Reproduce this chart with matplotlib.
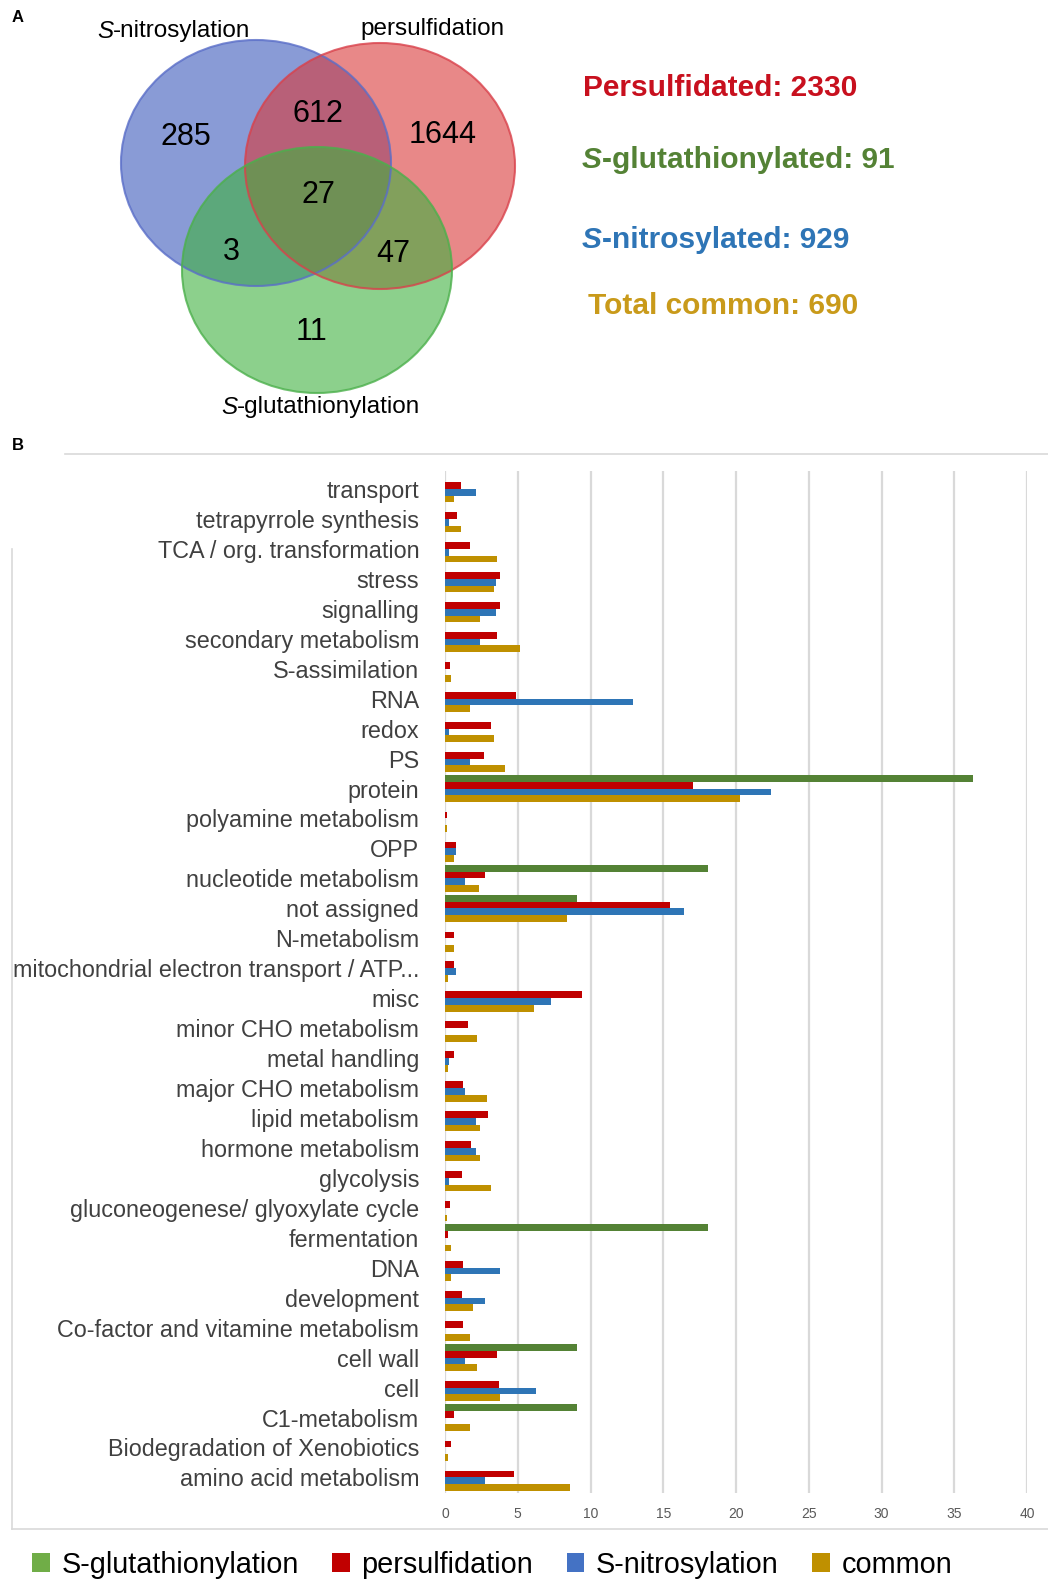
import numpy as np
import matplotlib.pyplot as plt
from matplotlib.patches import Ellipse, Patch
from matplotlib.lines import Line2D

# ---- data ----
venn_counts = {"N": 285, "NP": 612, "P": 1644, "NPG": 27, "NG": 3, "PG": 47, "G": 11}
totals = [("Persulfidated: ", 2330), ("S", "-glutathionylated: ", 91), ("S", "-nitrosylated: ", 929),
          ("Total common: ", 690)]

categories = ["transport", "tetrapyrrole synthesis", "TCA / org. transformation", "stress", "signalling",
              "secondary metabolism", "S-assimilation", "RNA", "redox", "PS", "protein",
              "polyamine metabolism", "OPP", "nucleotide metabolism", "not assigned", "N-metabolism",
              "mitochondrial electron transport / ATP...", "misc", "minor CHO metabolism",
              "metal handling", "major CHO metabolism", "lipid metabolism", "hormone metabolism",
              "glycolysis", "gluconeogenese/ glyoxylate cycle", "fermentation", "DNA", "development",
              "Co-factor and vitamine metabolism", "cell wall", "cell", "C1-metabolism",
              "Biodegradation of Xenobiotics", "amino acid metabolism"]

glut = [0, 0, 0, 0, 0, 0, 0, 0, 0, 0, 36.3, 0, 0, 18.1, 9.1, 0, 0, 0, 0, 0, 0, 0, 0, 0, 0,
        18.1, 0, 0, 0, 9.1, 0, 9.1, 0, 0]
pers = [1.08, 0.85, 1.7, 3.8, 3.8, 3.6, 0.32, 4.86, 3.18, 2.66, 17.04, 0.11, 0.73, 2.75, 15.44,
        0.64, 0.64, 9.42, 1.6, 0.64, 1.26, 2.98, 1.79, 1.17, 0.32, 0.2, 1.26, 1.17, 1.26, 3.6,
        3.69, 0.64, 0.43, 4.77]
nitro = [2.1, 0.3, 0.3, 3.48, 3.48, 2.43, 0, 12.9, 0.3, 1.7, 22.4, 0, 0.73, 1.37, 16.4, 0, 0.73,
         7.29, 0, 0.3, 1.37, 2.1, 2.1, 0.3, 0, 0, 3.8, 2.75, 0, 1.37, 6.23, 0, 0, 2.75]
common = [0.62, 1.08, 3.6, 3.39, 2.43, 5.18, 0.43, 1.7, 3.39, 4.12, 20.3, 0.11, 0.62, 2.34, 8.36,
          0.64, 0.2, 6.14, 2.22, 0.2, 2.86, 2.43, 2.43, 3.18, 0.11, 0.43, 0.43, 1.9, 1.7, 2.22,
          3.8, 1.7, 0.2, 8.57]
series_names = ["S-glutathionylation", "persulfidation", "S-nitrosylation", "common"]

plt.rcParams["font.family"] = ["Liberation Sans", "DejaVu Sans"]

W, H = 1048, 1580
fig = plt.figure(figsize=(W / 100, H / 100), dpi=100)

# ---- panel A : venn ----
av = fig.add_axes([0, 1 - 440 / H, 1, 440 / H])
av.set_xlim(0, W)
av.set_ylim(440, 0)
av.axis("off")

av.add_patch(Ellipse((256, 163), 270, 246, facecolor=(58/255, 88/255, 187/255), alpha=0.6,
                     edgecolor="none"))
av.add_patch(Ellipse((380, 166), 270, 246, facecolor=(217/255, 57/255, 57/255), alpha=0.6,
                     edgecolor="none"))
av.add_patch(Ellipse((317, 270), 270, 246, facecolor=(63/255, 177/255, 63/255), alpha=0.6,
                     edgecolor="none"))
av.add_patch(Ellipse((256, 163), 270, 246, facecolor="none", edgecolor="#5a6ec8", lw=1.5, alpha=0.8))
av.add_patch(Ellipse((380, 166), 270, 246, facecolor="none", edgecolor="#d9414b", lw=1.5, alpha=0.8))
av.add_patch(Ellipse((317, 270), 270, 246, facecolor="none", edgecolor="#4cb04c", lw=1.5, alpha=0.8))

spots = {"N": (186, 137), "NP": (318, 114), "P": (443, 135), "NPG": (318, 195),
         "NG": (231, 252), "PG": (393, 254), "G": (312, 332)}
for k, v in venn_counts.items():
    av.text(*spots[k], str(v), fontsize=22, ha="center", va="center", color="black")


def s_label(ax, x, y, rest, **kw):
    t = ax.text(x, y, "S", style="italic", ha="left", va="center", **kw)
    a = ax.annotate(rest, xy=(1, 0), xycoords=t, ha="left", va="bottom", **kw)
    return t, a


s_label(av, 97, 31, "-nitrosylation", fontsize=17.5)
av.text(433, 29, "persulfidation", fontsize=17.5, ha="center", va="center")
s_label(av, 221, 407, "-glutathionylation", fontsize=17.5)
av.text(12, 18, "A", fontsize=12, fontweight="bold", va="center")

tcol = ["#c8101e", "#548235", "#2e75b6", "#c99a1a"]
ty = [88, 160, 240, 306]
for i, item in enumerate(totals):
    kw = dict(fontsize=21.5, fontweight="bold", color=tcol[i])
    if len(item) == 2:
        av.text(583 if i == 0 else 588, ty[i], f"{item[0]}{item[1]}", ha="left", va="center", **kw)
    else:
        s_label(av, 582, ty[i], f"{item[1]}{item[2]}", **kw)

# ---- panel B : bars ----
ax_b0, ax_b1 = 471, 1493
ax = fig.add_axes([445 / W, 1 - ax_b1 / H, 582 / W, (ax_b1 - ax_b0) / H])
n = len(categories)
pos = np.arange(n)[::-1]
h = 0.225
cols = ["#548235", "#c00000", "#2e75b6", "#bf9000"]
for j, vals in enumerate([glut, pers, nitro, common]):
    ax.barh(pos + (1.5 - j) * h, vals, height=h, color=cols[j], zorder=3)

ax.set_xlim(0, 40)
ax.set_ylim(-0.52, n - 0.4)
ax.set_xticks(np.arange(0, 41, 5))
ax.set_yticks(pos)
ax.set_yticklabels(categories, fontsize=16.8, color="#404040")
ax.tick_params(axis="y", length=0, pad=18.5)
ax.tick_params(axis="x", length=0, pad=10, labelsize=10, labelcolor="#595959")
ax.grid(axis="x", color="#d9d9d9", lw=1.6, zorder=0)
ax.set_axisbelow(True)
for s in ax.spines.values():
    s.set_visible(False)

fig.text(12 / W, 1 - 446 / H, "B", fontsize=12, fontweight="bold", va="center")

# chart border
gray = "#d9d9d9"
fig.add_artist(Line2D([65 / W, 1], [1 - 454 / H] * 2, color=gray, lw=1.2))
fig.add_artist(Line2D([12 / W] * 2, [1 - 549 / H, 1 - 1529 / H], color=gray, lw=1.2))
fig.add_artist(Line2D([12 / W, 1], [1 - 1529 / H] * 2, color=gray, lw=1.2))

leg_cols = ["#70ad47", "#c00000", "#4472c4", "#bf9000"]
handles = [Patch(facecolor=c, edgecolor="none") for c in leg_cols]
fig.legend(handles, series_names, loc="center left", bbox_to_anchor=(32 / W, 1 - 1565 / H),
           ncol=4, frameon=False, handlelength=0.62, handleheight=0.62, handletextpad=0.4,
           columnspacing=1.15, borderpad=0, borderaxespad=0,
           prop={"size": 20.8})

fig.savefig("out.png", dpi=100)
